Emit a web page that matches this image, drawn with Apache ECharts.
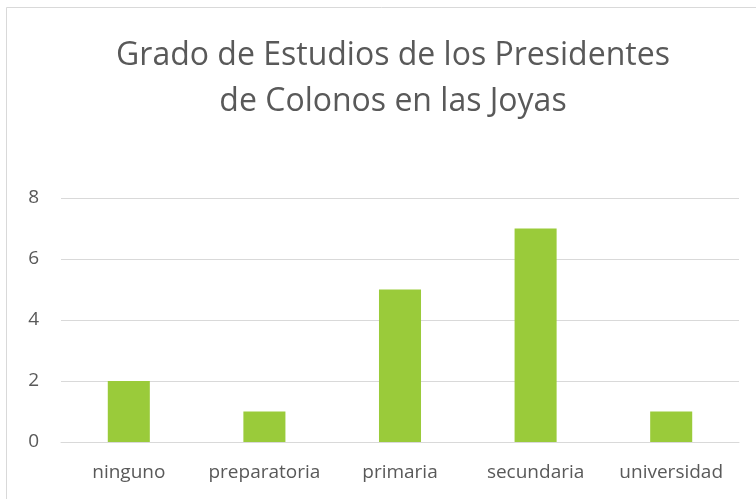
<!DOCTYPE html>
<html>
<head>
<meta charset="utf-8">
<script src="https://cdn.jsdelivr.net/npm/echarts@6/dist/echarts.min.js"></script>
<style>
  html, body { margin: 0; padding: 0; background: #fff; }
  #chart { width: 756px; height: 499px; }
</style>
</head>
<body>
<div id="chart"></div>
<script>
// Education level of colony presidents in Las Joyas
const categories = ['ninguno', 'preparatoria', 'primaria', 'secundaria', 'universidad'];
const counts = [2, 1, 5, 7, 1];
const yTicks = { min: 0, max: 8, interval: 2 };

const FONT = '"Open Sans", "Liberation Sans", sans-serif';
const TEXT = '#595959';

const chart = echarts.init(document.getElementById('chart'), null, { renderer: 'canvas' });
chart.setOption({
  animation: false,
  backgroundColor: '#ffffff',
  title: {
    text: 'Grado de Estudios de los Presidentes\nde Colonos en las Joyas',
    left: 388,
    textAlign: 'center',
    top: 28,
    textStyle: {
      fontFamily: FONT,
      fontSize: 32,
      fontWeight: 'normal',
      color: TEXT,
      lineHeight: 46
    }
  },
  graphic: [{
    type: 'rect',
    shape: { x: 6.5, y: 7.5, width: 800, height: 600 },
    style: { fill: 'none', stroke: '#d9d9d9', lineWidth: 1 },
    silent: true
  }],
  grid: { left: 61, right: 17, top: 198, bottom: 57, containLabel: false },
  xAxis: {
    type: 'category',
    data: categories,
    axisLine: { show: true, lineStyle: { color: '#d9d9d9', width: 1 } },
    axisTick: { show: false },
    axisLabel: { interval: 0, hideOverlap: false, fontFamily: FONT, fontSize: 19, color: TEXT, margin: 21 }
  },
  yAxis: {
    type: 'value',
    min: yTicks.min,
    max: yTicks.max,
    interval: yTicks.interval,
    axisLine: { show: false },
    axisTick: { show: false },
    splitLine: { lineStyle: { color: '#d9d9d9', width: 1 } },
    axisLabel: { fontFamily: FONT, fontSize: 19, color: TEXT, margin: 22 }
  },
  series: [{
    type: 'bar',
    data: counts,
    barWidth: '31%',
    itemStyle: { color: '#9ACB3A' }
  }]
});
</script>
</body>
</html>
